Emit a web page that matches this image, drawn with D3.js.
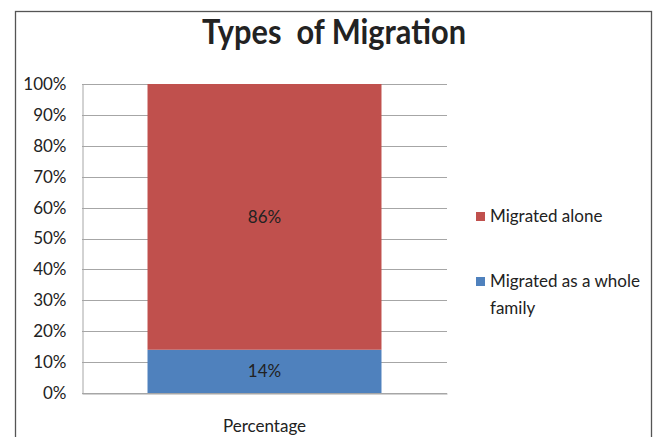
<!DOCTYPE html>
<html>
<head>
<meta charset="utf-8">
<script src="https://cdn.jsdelivr.net/npm/d3@7"></script>
<style>
  html, body { margin: 0; padding: 0; background: #fff; }
  svg { display: block; }
  text { font-family: Lato, "Open Sans", sans-serif; fill: #222; white-space: pre; }
</style>
</head>
<body>
<svg id="chart" width="662" height="437"></svg>
<script>
// Stacked 100% column: share of each migration type
const categories = ["Percentage"];
const seriesNames = ["Migrated as a whole family", "Migrated alone"];
const familyValues = [14];
const aloneValues = [86];
const tickValues = [0, 10, 20, 30, 40, 50, 60, 70, 80, 90, 100];
const colors = ["#4F81BD", "#C0504D"];

const FONT = "Lato, 'Open Sans', sans-serif";
const svg = d3.select("#chart");

// outer chart frame
svg.append("rect")
  .attr("x", 15.5).attr("y", 11.5)
  .attr("width", 636).attr("height", 440)
  .attr("fill", "#fff").attr("stroke", "#555").attr("stroke-width", 1.3);

// title
svg.append("text")
  .attr("x", 334).attr("y", 44)
  .attr("text-anchor", "middle")
  .attr("font-size", 34).attr("font-weight", "bold")
  .attr("fill", "#000")
  .attr("textLength", 264).attr("lengthAdjust", "spacingAndGlyphs")
  .text("Types  of Migration");

const plot = { left: 82, right: 447, top: 84, bottom: 393 };

const x = d3.scaleBand()
  .domain(categories)
  .range([plot.left, plot.right])
  .paddingInner(0).paddingOuter(0.28);

const y = d3.scaleLinear()
  .domain([0, 100])
  .range([plot.bottom, plot.top]);

// horizontal gridlines
svg.append("g")
  .selectAll("line")
  .data(tickValues)
  .join("line")
  .attr("x1", plot.left).attr("x2", plot.right)
  .attr("y1", d => Math.round(y(d)) + 0.5).attr("y2", d => Math.round(y(d)) + 0.5)
  .attr("stroke", "#a6a6a6").attr("stroke-width", 1);

// y axis
const yAxis = d3.axisLeft(y)
  .tickValues(tickValues)
  .tickFormat(d => d + "%")
  .tickSize(0)
  .tickPadding(16);

const gy = svg.append("g")
  .attr("transform", `translate(${plot.left + 0.5},0)`)
  .call(yAxis);
gy.select(".domain").attr("stroke", "#a6a6a6");
gy.selectAll("text").attr("font-size", 17).attr("fill", "#222")
  .attr("font-family", FONT);

// x axis
const xAxis = d3.axisBottom(x).tickSize(0).tickPadding(26);
const gx = svg.append("g")
  .attr("transform", `translate(0,${Math.round(y(0)) + 0.5})`)
  .call(xAxis);
gx.select(".domain").attr("stroke", "#a6a6a6");
gx.selectAll("text").attr("font-size", 17).attr("fill", "#222")
  .attr("font-family", FONT);

// stacked bars
const rows = categories.map((c, i) => ({
  category: c,
  family: familyValues[i],
  alone: aloneValues[i]
}));
const stack = d3.stack().keys(["family", "alone"]);
const stacked = stack(rows);

const layers = svg.append("g")
  .selectAll("g")
  .data(stacked)
  .join("g")
  .attr("fill", (d, i) => colors[i]);

layers.selectAll("rect")
  .data(d => d)
  .join("rect")
  .attr("x", d => x(d.data.category))
  .attr("width", x.bandwidth())
  .attr("y", d => y(d[1]))
  .attr("height", d => y(d[0]) - y(d[1]));

// value labels
layers.selectAll("text")
  .data((d, i) => d.map(p => ({ p, key: stacked[i].key })))
  .join("text")
  .attr("x", d => x(d.p.data.category) + x.bandwidth() / 2)
  .attr("y", d => (y(d.p[0]) + y(d.p[1])) / 2 + 6)
  .attr("text-anchor", "middle")
  .attr("font-size", 17)
  .attr("fill", "#222")
  .text(d => (d.p[1] - d.p[0]) + "%");

// legend (top entry is the upper stack segment)
const legendItems = [
  { name: ["Migrated alone"], color: colors[1], y: 216 },
  { name: ["Migrated as a whole", "family"], color: colors[0], y: 281 }
];
const legend = svg.append("g");
legendItems.forEach(item => {
  legend.append("rect")
    .attr("x", 476).attr("y", item.y - 4)
    .attr("width", 9).attr("height", 9)
    .attr("fill", item.color);
  item.name.forEach((line, j) => {
    legend.append("text")
      .attr("x", 490).attr("y", item.y + 6 + j * 27)
      .attr("font-size", 17)
      .attr("fill", "#222")
      .text(line);
  });
});
</script>
</body>
</html>
